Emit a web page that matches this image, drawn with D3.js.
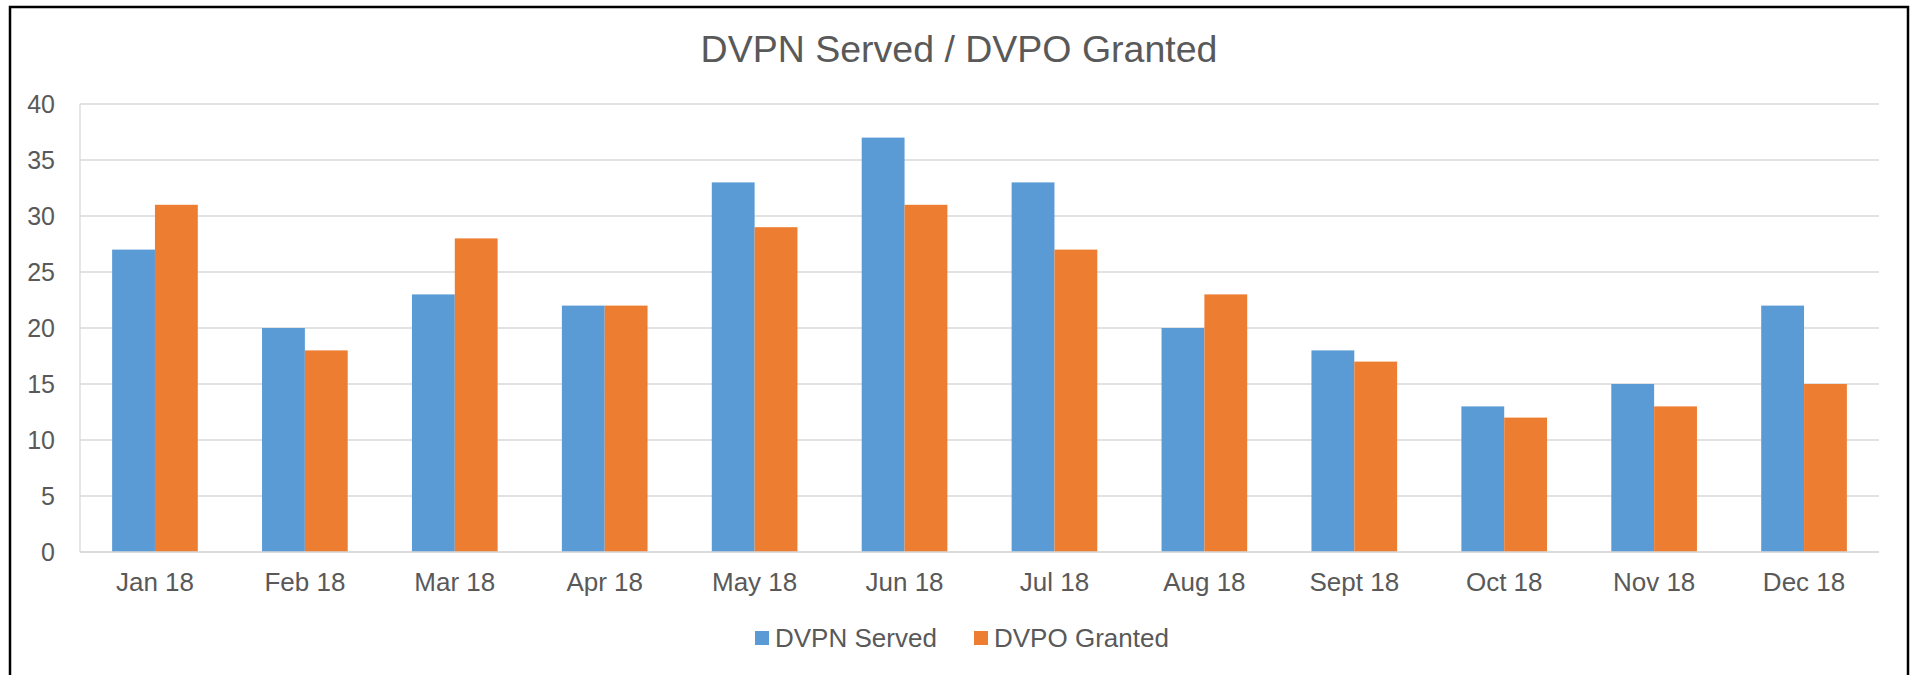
<!DOCTYPE html>
<html>
<head>
<meta charset="utf-8">
<script src="https://cdn.jsdelivr.net/npm/d3@7"></script>
<style>
    html, body { margin: 0; padding: 0; background: #fff; }
    svg { display: block; font-family: Arial, 'Liberation Sans', sans-serif; }
</style>
</head>
<body>
<svg id="chart" width="1914" height="675"></svg>
<script>
const months = ['Jan 18','Feb 18','Mar 18','Apr 18','May 18','Jun 18','Jul 18','Aug 18','Sept 18','Oct 18','Nov 18','Dec 18'];
const dvpnServed = [27, 20, 23, 22, 33, 37, 33, 20, 18, 13, 15, 22];
const dvpoGranted = [31, 18, 28, 22, 29, 31, 27, 23, 17, 12, 13, 15];
const seriesNames = ['DVPN Served', 'DVPO Granted'];
const seriesColors = ['#5B9BD5', '#ED7D31'];
const yTicks = [0, 5, 10, 15, 20, 25, 30, 35, 40];

const svg = d3.select('#chart');
const textColor = '#595959';
const gridColor = '#D9D9D9';

const plot = {left: 80, right: 1879, top: 104, bottom: 552};

// outer frame
svg.append('rect')
    .attr('x', 10)
    .attr('y', 7)
    .attr('width', 1898)
    .attr('height', 680)
    .attr('fill', 'white')
    .attr('stroke', 'black')
    .attr('stroke-width', 2.5);

svg.append('text')
    .text('DVPN Served / DVPO Granted')
    .attr('x', 959)
    .attr('y', 62)
    .style('text-anchor', 'middle')
    .style('font-size', '37.5px')
    .style('fill', textColor);

const x = d3.scaleBand()
    .domain(months)
    .range([plot.left, plot.right])
    .paddingInner(1.5 / 3.5)
    .paddingOuter(0.75 / 3.5);

const xInner = d3.scaleBand()
    .domain(seriesNames)
    .range([0, x.bandwidth()]);

const y = d3.scaleLinear()
    .domain([0, 40])
    .range([plot.bottom, plot.top]);

// gridlines
svg.append('g')
    .attr('class', 'grid')
    .selectAll('line')
    .data(yTicks)
    .enter().append('line')
    .attr('x1', plot.left)
    .attr('x2', plot.right)
    .attr('y1', (d) => y(d))
    .attr('y2', (d) => y(d))
    .attr('stroke', gridColor)
    .attr('stroke-width', 1.3);

// left axis line
svg.append('line')
    .attr('x1', plot.left)
    .attr('x2', plot.left)
    .attr('y1', plot.top)
    .attr('y2', plot.bottom)
    .attr('stroke', gridColor)
    .attr('stroke-width', 1.3);

const yAxis = svg.append('g')
    .attr('transform', `translate(${plot.left}, 0)`)
    .call(d3.axisLeft(y).tickValues(yTicks).tickSize(0).tickPadding(25));
yAxis.select('.domain').remove();
yAxis.selectAll('text')
    .style('font-size', '25px')
    .style('font-family', 'Arial, "Liberation Sans", sans-serif')
    .style('fill', textColor);

const data = months.map((m, i) => ({month: m, values: [dvpnServed[i], dvpoGranted[i]]}));

const groups = svg.append('g')
    .attr('class', 'bars')
    .selectAll('g')
    .data(data)
    .enter().append('g')
    .attr('transform', (d) => `translate(${x(d.month)}, 0)`);

groups.selectAll('rect')
    .data((d) => d.values.map((v, j) => ({name: seriesNames[j], value: v, color: seriesColors[j]})))
    .enter().append('rect')
    .attr('x', (d) => xInner(d.name))
    .attr('y', (d) => y(d.value))
    .attr('width', xInner.bandwidth())
    .attr('height', (d) => y(0) - y(d.value))
    .attr('fill', (d) => d.color);

// baseline on top of bars
svg.append('line')
    .attr('x1', plot.left)
    .attr('x2', plot.right)
    .attr('y1', plot.bottom)
    .attr('y2', plot.bottom)
    .attr('stroke', gridColor)
    .attr('stroke-width', 1.5);

const xAxis = svg.append('g')
    .attr('transform', `translate(0, ${plot.bottom})`)
    .call(d3.axisBottom(x).tickSize(0).tickPadding(21));
xAxis.select('.domain').remove();
xAxis.selectAll('text')
    .style('font-size', '26px')
    .style('font-family', 'Arial, "Liberation Sans", sans-serif')
    .style('fill', textColor);

// legend
const legend = svg.append('g').attr('class', 'legend');
const legendX = [755, 974];

seriesNames.forEach((name, i) => {
    const item = legend.append('g')
        .attr('transform', `translate(${legendX[i]}, 638)`);

    item.append('rect')
        .attr('x', 0)
        .attr('y', -7)
        .attr('width', 14)
        .attr('height', 14)
        .attr('fill', seriesColors[i]);

    item.append('text')
        .text(name)
        .attr('x', 20)
        .attr('y', 9)
        .style('font-size', '26px')
        .style('fill', textColor);
});
</script>
</body>
</html>
